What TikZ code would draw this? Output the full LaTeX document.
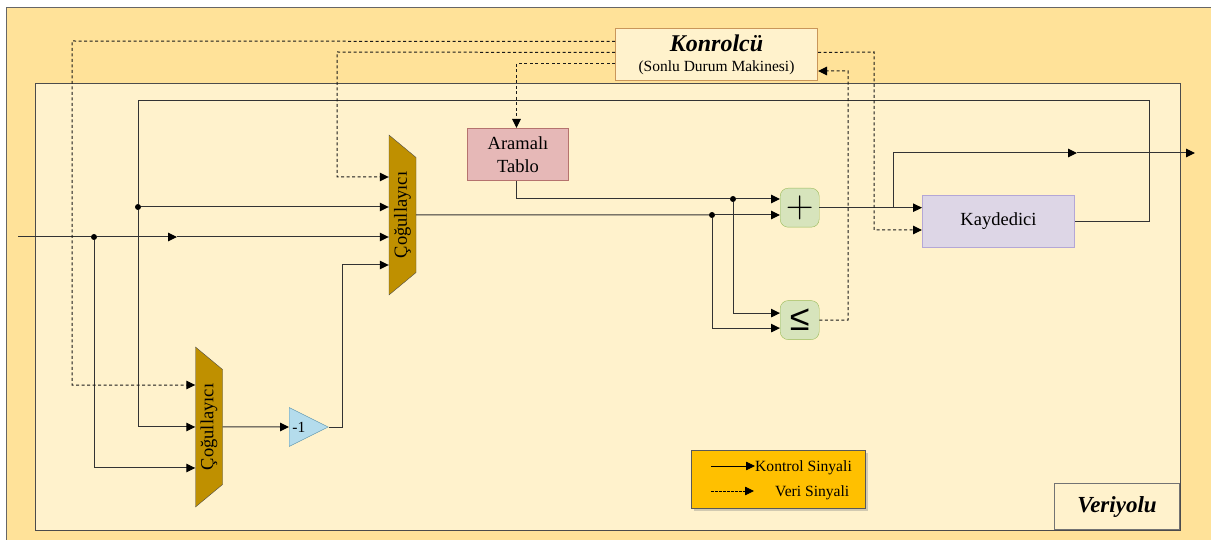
\documentclass[tikz,border=0pt]{standalone}
\usepackage{fontspec}
\setmainfont{Liberation Serif}
\newfontfamily\symfont{Liberation Sans}
\usepackage{xcolor}
\usetikzlibrary{shapes,arrows.meta,positioning,shadows}
\definecolor{outerbg}{HTML}{FFE299}
\definecolor{innerbg}{HTML}{FFF2CC}
\definecolor{muxfill}{HTML}{BF9000}
\definecolor{legendbg}{HTML}{FFC000}
\definecolor{opsfill}{HTML}{D7E4BC}
\definecolor{opsline}{HTML}{9BBB59}
\definecolor{tablefill}{HTML}{E6B8B7}
\definecolor{tableline}{HTML}{B5736E}
\definecolor{regfill}{HTML}{DDD6E6}
\definecolor{regline}{HTML}{B4A7D6}
\definecolor{ctrlline}{HTML}{C9965A}
\definecolor{negfill}{HTML}{B4DCEC}
\definecolor{negline}{HTML}{5A94AC}
\tikzset{
  >={Triangle[length=9pt,width=8.5pt,color=black]},
  wire/.style={draw=black!80, line width=1pt},
  ctrl/.style={draw=black!90, line width=1pt, dash pattern=on 3pt off 2.5pt},
  mux/.style={trapezium, trapezium left angle=135, trapezium right angle=135,
    trapezium stretches=true, rotate=90, draw=black!70, fill=muxfill,
    minimum width=160pt, minimum height=27pt, inner sep=0pt,
    font=\fontsize{18.5}{20}\selectfont},
  ops/.style={rectangle, rounded corners=8pt, draw=opsline, fill=opsfill,
    minimum size=39pt, inner sep=0pt},
  block/.style={rectangle, draw, minimum height=52pt, inner sep=0pt, align=center,
    line width=1pt, font=\fontsize{18.5}{23}\selectfont},
  dot/.style={circle, fill=black, minimum size=6pt, inner sep=0pt}
}
\begin{document}
\begin{tikzpicture}[x=1pt, y=-1pt]
    \useasboundingbox (0,0) rectangle (1211,540);

    % Frames
    \fill[outerbg] (6,7) rectangle (1211,540);
    \draw[black!60, line width=0.9pt] (6,540) -- (6,7) -- (1211,7);
    \draw[black!70, fill=innerbg, line width=0.9pt] (35,83) rectangle (1180,530);

    % Place nodes
    \node [block, draw=ctrlline, fill=innerbg, minimum width=202pt, anchor=north west] (Konrolcu) at (615,28)
        {{\fontsize{24}{26}\selectfont\bfseries\itshape Konrolcü}\\[-3pt]{\fontsize{15.5}{17}\selectfont (Sonlu Durum Makinesi)}};
    \node [block, draw=tableline, fill=tablefill, minimum width=101pt, anchor=north west] (Tablo) at (467,128) {Aramalı\\Tablo};
    \node [block, draw=regline, fill=regfill, minimum width=152pt, anchor=north west] (Kaydedici) at (922,195) {Kaydedici};
    \node [mux] (MuxA) at (402.5,215) {Çoğullayıcı};
    \node [mux] (MuxB) at (209,427) {Çoğullayıcı};
    \node [isosceles triangle, isosceles triangle apex angle=53, draw=negline, fill=negfill,
        minimum height=39pt, inner sep=0pt, anchor=lower side, font=\fontsize{15.5}{17}\selectfont,
        text width=12pt] (Negate) at (289,427) {\hspace*{-2pt}-1};
    \node [ops, anchor=north west] (Adder) at (780,188) {\fontsize{24.88}{26}\selectfont\scalebox{1.55}{$+$}};
    \node [ops, below=73pt of Adder] (Compare) {\symfont\fontsize{36}{36}\selectfont ≤};

    \node [dot] (InDot) at (94,237) {};
    \node [dot] (FeedDot) at (138,207) {};
    \node [dot] (TableDot) at (733,199) {};
    \node [dot] (MuxDot) at (712,215) {};

    \coordinate (InStart) at (18,237);
    \coordinate (InMid) at (177,237);
    \coordinate (OutTap) at (893,207);
    \coordinate (OutMid) at (1077,153);
    \coordinate (OutEnd) at (1195,153);

    % Data lines
    \draw[wire] (InStart) -- (InDot);
    \draw[wire,->] (InDot) -- (InMid);
    \draw[wire,->] (InMid) -- (InMid -| MuxA.north);
    \draw[wire,->] (InDot) |- ([yshift=-41pt]MuxB.north);
    \draw[wire] (Kaydedici.east) -- (Kaydedici.east -| 1149,0) -- (1149,101) -- (138,101) -- (FeedDot);
    \draw[wire,->] (FeedDot) |- (MuxB.north);
    \draw[wire,->] (FeedDot) -- (FeedDot -| MuxA.north);
    \draw[wire,->] (MuxB.south) -- (Negate.lower side);
    \draw[wire,->] (Negate.apex) -- (342,427) -- (342,265) -- (MuxA.north |- 342,265);
    \draw[wire] (MuxA.south) -- (MuxDot);
    \draw[wire,->] (MuxDot) -- (MuxDot -| Adder.west);
    \draw[wire,->] (MuxDot) |- ([yshift=-8pt]Compare.west);
    \draw[wire] ([xshift=-1.5pt]Tablo.south) |- (TableDot);
    \draw[wire,->] (TableDot) -- (TableDot -| Adder.west);
    \draw[wire,->] (TableDot) |- ([yshift=7pt]Compare.west);
    \draw[wire,->] (Adder.east) -- (Adder.east -| Kaydedici.west);
    \draw[wire,->] (OutTap) -- (893,153) -- (OutMid);
    \draw[wire,->] (OutMid) -- (OutEnd);

    % Control lines
    \draw[ctrl,->] ([yshift=13pt]Konrolcu.west) -- (72,41) -- (72,385) -- (MuxB.north |- 72,385);
    \draw[ctrl,->] ([yshift=2pt]Konrolcu.west) -- (337,52) -- (337,177) -- (MuxA.north |- 337,177);
    \draw[ctrl,->] ([yshift=-9pt]Konrolcu.west) -| ([xshift=-1.5pt]Tablo.north);
    \draw[ctrl,->] ([yshift=2pt]Konrolcu.east) -- (874,52) -- (874,230) -- (Kaydedici.west |- 874,230);
    \draw[ctrl,->] (Compare.east) -- (848,320) -- (848,71) -- (Konrolcu.east |- 848,71);

    % Legend and label
    \node [rectangle, draw=black!65, fill=legendbg, line width=1pt, drop shadow={opacity=0.35}, minimum width=174pt, minimum height=58pt, anchor=north west] (Legend) at (691,450) {};
    \node [font=\fontsize{15.6}{17}\selectfont, anchor=west, inner sep=0pt] (KontrolText) at (755,467.5) {Kontrol Sinyali};
    \node [font=\fontsize{15.6}{17}\selectfont, anchor=west, inner sep=0pt] (VeriText) at (775,492.5) {Veri Sinyali};
    \coordinate (KontrolStart) at (711,466);
    \coordinate (KontrolTip) at (755,466);
    \coordinate (VeriStart) at (711,491);
    \coordinate (VeriTip) at (754,491);
    \draw[black, line width=0.8pt, ->] (KontrolStart) -- (KontrolTip);
    \draw[black, line width=0.8pt, dash pattern=on 2.5pt off 1.5pt, ->] (VeriStart) -- (VeriTip);
    \node [rectangle, draw=black!55, fill=innerbg, line width=0.9pt, minimum width=125pt, minimum height=46pt, anchor=south east, font=\fontsize{23}{25}\selectfont\bfseries\itshape] (Veriyolu) at (1180,530) {Veriyolu};

\end{tikzpicture}
\end{document}
